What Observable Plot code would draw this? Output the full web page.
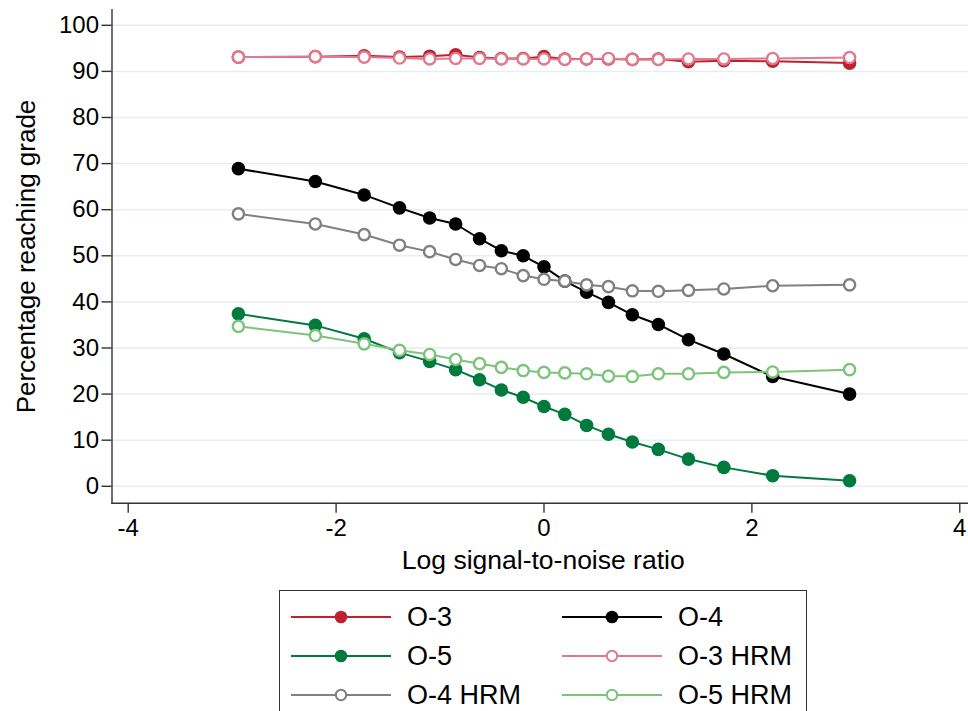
<!DOCTYPE html>
<html>
<head>
<meta charset="utf-8">
<script src="https://cdn.jsdelivr.net/npm/d3@7"></script>
<script src="https://cdn.jsdelivr.net/npm/@observablehq/plot@0.6"></script>
<style>
  html, body { margin: 0; padding: 0; background: #fff; overflow: hidden; }
  #wrap { position: relative; width: 968px; height: 711px; font-family: "Liberation Sans", Arial, Helvetica, sans-serif; }
  #legend { position: absolute; left: 279px; top: 590px; width: 528px; height: 140px; border: 1.5px solid #333; box-sizing: border-box; background: #fff; }
  .item { position: absolute; display: flex; align-items: center; height: 30px; }
  .item span { font-size: 27px; color: #000; margin-left: 16px; white-space: nowrap; }
</style>
</head>
<body>
<div id="wrap">
  <div id="chart"></div>
  <div id="legend"></div>
</div>
<script>
// Log signal-to-noise ratio at which each grading rule was evaluated
const snr = [-2.94, -2.20, -1.73, -1.39, -1.10, -0.85, -0.62, -0.41, -0.20, 0, 0.20, 0.41, 0.62, 0.85, 1.10, 1.39, 1.73, 2.20, 2.94];

// Percentage reaching each grade
const o3    = [93.1, 93.2, 93.4, 93.1, 93.3, 93.6, 93.0, 92.8, 92.8, 93.2, 92.7, 92.7, 92.7, 92.6, 92.7, 92.1, 92.3, 92.2, 91.8];
const o4    = [68.9, 66.1, 63.2, 60.4, 58.2, 56.9, 53.7, 51.1, 50.0, 47.6, 44.5, 42.1, 39.9, 37.2, 35.1, 31.8, 28.7, 23.8, 20.0];
const o5    = [37.4, 34.9, 32.0, 29.0, 27.1, 25.3, 23.1, 20.9, 19.3, 17.3, 15.6, 13.2, 11.3, 9.6, 8.0, 5.9, 4.1, 2.3, 1.2];
const o3hrm = [93.1, 93.2, 93.1, 92.9, 92.7, 92.8, 92.8, 92.7, 92.7, 92.7, 92.6, 92.7, 92.8, 92.6, 92.6, 92.7, 92.7, 92.8, 93.0];
const o4hrm = [59.1, 56.9, 54.6, 52.3, 50.9, 49.2, 47.9, 47.2, 45.7, 44.9, 44.5, 43.7, 43.3, 42.4, 42.3, 42.5, 42.8, 43.5, 43.7];
const o5hrm = [34.7, 32.7, 30.9, 29.5, 28.6, 27.5, 26.6, 25.8, 25.1, 24.7, 24.6, 24.4, 23.9, 23.8, 24.4, 24.4, 24.7, 24.8, 25.3];

const seriesNames = ["O-3", "O-4", "O-5", "O-3 HRM", "O-4 HRM", "O-5 HRM"];
const seriesValues = [o3, o4, o5, o3hrm, o4hrm, o5hrm];

const xTicks = [-4, -2, 0, 2, 4];
const yTicks = [0, 10, 20, 30, 40, 50, 60, 70, 80, 90, 100];
const xTitle = "Log signal-to-noise ratio";
const yTitle = "Percentage reaching grade";

// Styling per series: colour and whether the marker is hollow
const styles = {
  "O-3":     {color: "#c1202f", hollow: false},
  "O-4":     {color: "#000000", hollow: false},
  "O-5":     {color: "#007a3d", hollow: false},
  "O-3 HRM": {color: "#e07a8e", hollow: true},
  "O-4 HRM": {color: "#808080", hollow: true},
  "O-5 HRM": {color: "#7cc47a", hollow: true}
};

const rows = seriesNames.map((name, i) =>
  snr.map((x, j) => ({series: name, x, y: seriesValues[i][j]}))
);

const W = 968, H = 580;
const font = "Liberation Sans, Arial, Helvetica, sans-serif";

const seriesMarks = rows.flatMap((data) => {
  const s = styles[data[0].series];
  return [
    Plot.line(data, {x: "x", y: "y", stroke: s.color, strokeWidth: 2}),
    s.hollow
      ? Plot.dot(data, {x: "x", y: "y", r: 5.6, fill: "#fff", stroke: s.color, strokeWidth: 2.4})
      : Plot.dot(data, {x: "x", y: "y", r: 6.8, fill: s.color, stroke: "none"})
  ];
});

const chart = Plot.plot({
  width: W,
  height: H,
  marginLeft: 111.5,
  marginRight: 0,
  marginTop: 9.3,
  marginBottom: H - 502.7,
  style: {fontFamily: font, background: "#fff", color: "#000", overflow: "visible"},
  x: {domain: [-4.156, 4.084]},
  y: {domain: [-3.67, 103.36]},
  marks: [
    Plot.gridY(yTicks, {stroke: "#e6eef1", strokeOpacity: 1, strokeWidth: 1.5}),
    Plot.frame({anchor: "left", stroke: "#333", strokeWidth: 1.4}),
    Plot.frame({anchor: "bottom", stroke: "#333", strokeWidth: 1.4}),
    Plot.axisX(xTicks, {
      tickSize: 10, tickPadding: 6, fontSize: 24, label: null,
      stroke: "#333", strokeWidth: 1.4, tickFormat: (d) => String(d).replace("−", "-")
    }),
    Plot.axisY(yTicks, {
      tickSize: 10, tickPadding: 3, fontSize: 24, label: null,
      stroke: "#333", strokeWidth: 1.4
    }),
    Plot.text([xTitle], {
      frameAnchor: "bottom", textAnchor: "middle", lineAnchor: "middle",
      dx: 3, dy: 57, fontSize: 26.5, fill: "#000", text: (d) => d
    }),
    Plot.text([yTitle], {
      frameAnchor: "left", textAnchor: "middle", lineAnchor: "middle",
      dx: -85.5, fontSize: 26, rotate: -90, fill: "#000", text: (d) => d
    }),
    ...seriesMarks
  ]
});

document.getElementById("chart").appendChild(chart);

// Legend: two columns, three rows, with a line segment and marker per series
const legend = document.getElementById("legend");
const colLeft = [11, 282];
const rowTop = [11, 50, 89];
seriesNames.forEach((name, i) => {
  const s = styles[name];
  const item = document.createElement("div");
  item.className = "item";
  item.style.left = colLeft[i % 2] + "px";
  item.style.top = rowTop[Math.floor(i / 2)] + "px";
  const ns = "http://www.w3.org/2000/svg";
  const svg = document.createElementNS(ns, "svg");
  svg.setAttribute("width", 100);
  svg.setAttribute("height", 30);
  const line = document.createElementNS(ns, "line");
  line.setAttribute("x1", 0); line.setAttribute("x2", 100);
  line.setAttribute("y1", 15); line.setAttribute("y2", 15);
  line.setAttribute("stroke", s.color); line.setAttribute("stroke-width", 2);
  svg.appendChild(line);
  const c = document.createElementNS(ns, "circle");
  c.setAttribute("cx", 50); c.setAttribute("cy", 15);
  if (s.hollow) {
    c.setAttribute("r", 5.2); c.setAttribute("fill", "#fff");
    c.setAttribute("stroke", s.color); c.setAttribute("stroke-width", 2);
  } else {
    c.setAttribute("r", 6.3); c.setAttribute("fill", s.color);
  }
  svg.appendChild(c);
  item.appendChild(svg);
  const label = document.createElement("span");
  label.textContent = name;
  item.appendChild(label);
  legend.appendChild(item);
});
</script>
</body>
</html>
